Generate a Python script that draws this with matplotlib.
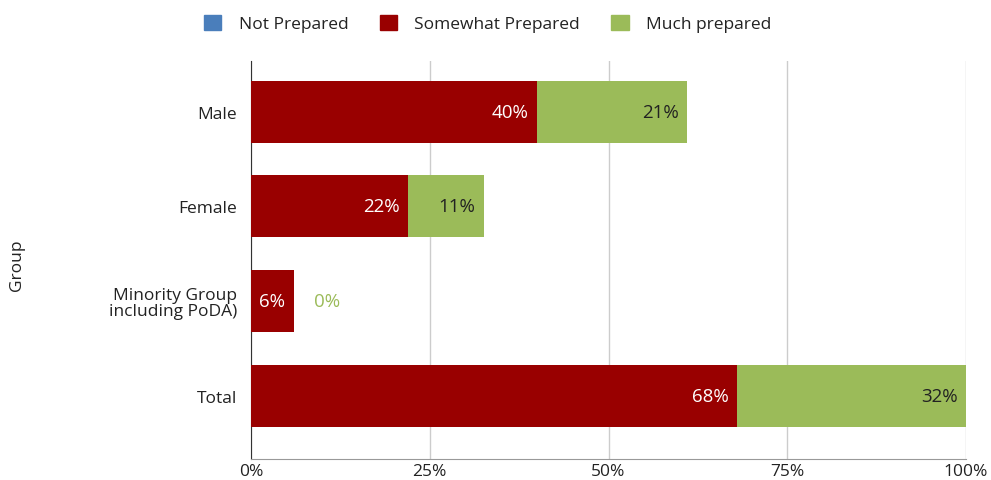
import numpy as np
import matplotlib.pyplot as plt
from matplotlib.patches import Patch

plt.rcParams['font.family'] = ['Open Sans', 'DejaVu Sans']

groups = ["Male", "Female", "Minority Group\nincluding PoDA)", "Total"]
not_prepared = [0, 0, 0, 0]
somewhat = [40, 22, 6, 68]
much = [21, 10.6, 0, 32]
series_names = ["Not Prepared", "Somewhat Prepared", "Much prepared"]
colors = ["#4a7ebb", "#990000", "#9bbb59"]
xticks = [0, 25, 50, 75, 100]

FS = 12.5
LFS = 13.5  # data labels a bit larger
fig = plt.figure(figsize=(9.91, 4.81), dpi=100)
ax = fig.add_axes([0.2533, 0.0437, 0.7215, 0.8274])

y = np.arange(len(groups))
h = 0.655
left = np.zeros(len(groups))
for vals, c in zip([not_prepared, somewhat, much], colors):
    ax.barh(y, vals, height=h, left=left, color=c, zorder=3)
    left = left + np.array(vals)

# data labels
for i in range(len(groups)):
    end1 = somewhat[i]
    ax.text(end1 - 1.2, y[i], f"{somewhat[i]:.0f}%", color="white",
            ha="right", va="center", fontsize=LFS, zorder=4)
    end2 = somewhat[i] + much[i]
    if much[i] > 0:
        ax.text(end2 - 1.2, y[i], f"{much[i]:.0f}%", color="#222222",
                ha="right", va="center", fontsize=LFS, zorder=4)
    else:
        ax.text(end2 + 2.8, y[i], f"{much[i]:.0f}%", color=colors[2],
                ha="left", va="center", fontsize=LFS, zorder=4)

ax.set_xlim(0, 100)
ax.set_ylim(3.67, -0.535)
ax.set_yticks(y)
ax.set_yticklabels(groups, fontsize=FS, color="#222222", linespacing=1.0)
ax.set_xticks(xticks)
ax.set_xticklabels([f"{t}%" for t in xticks], fontsize=FS, color="#222222")
ax.tick_params(length=0, pad=10)
ax.tick_params(axis="x", pad=3)
ax.grid(axis="x", color="#cccccc", lw=1, zorder=0)
for s in ["top", "right"]:
    ax.spines[s].set_visible(False)
ax.spines["bottom"].set_color("#999999")
ax.spines["left"].set_color("#333333")
fig.text(17 / 991, 1 - 265 / 481, "Group", rotation=90, fontsize=FS,
         color="#222222", ha="center", va="center")

handles = [Patch(color=c) for c in colors]
fig.legend(handles, series_names, loc="upper center", bbox_to_anchor=(0.492, 1.0),
           ncol=3, frameon=False, fontsize=FS, handlelength=1.0, handleheight=1.0,
           columnspacing=1.8, handletextpad=1.0, labelcolor="#222222")

fig.savefig("out.png", dpi=100)
